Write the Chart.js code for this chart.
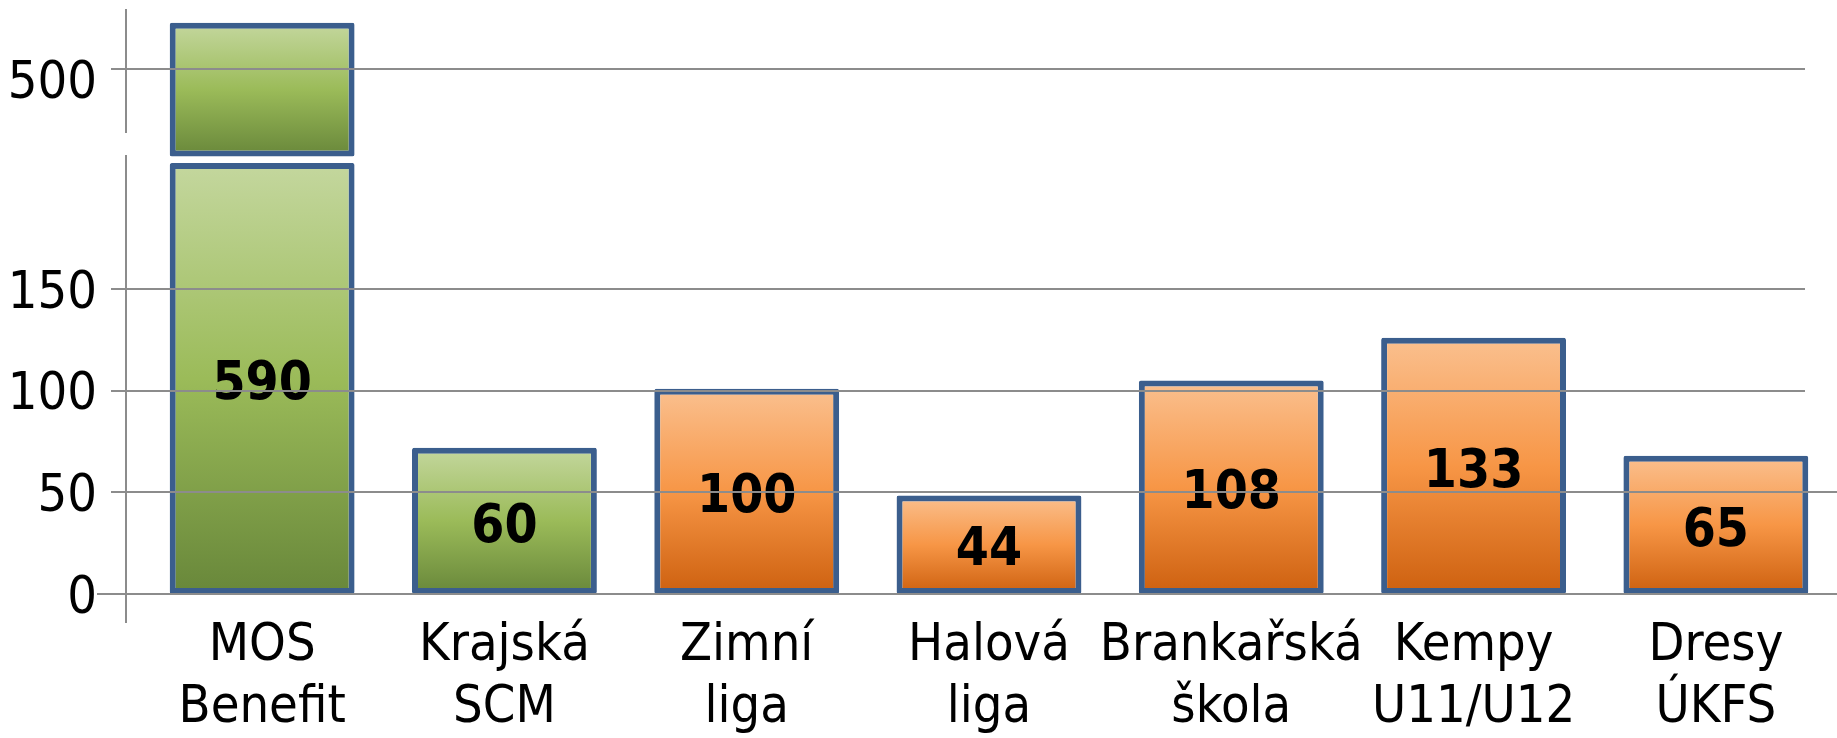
<!DOCTYPE html>
<html>
<head>
<meta charset="utf-8">
<script src="https://cdn.jsdelivr.net/npm/chart.js@4.4.0/dist/chart.umd.min.js"></script>
<style>
  html, body { margin: 0; padding: 0; background: #fff; }
  #wrap { width: 1837px; height: 738px; }
</style>
</head>
<body>
<div id="wrap"><canvas id="chart" width="1837" height="738"></canvas></div>
<script>
// kategorie na ose x (dva radky)
const categories = [
    ['MOS', 'Benefit'], ['Krajská', 'SCM'], ['Zimní', 'liga'], ['Halová', 'liga'],
    ['Brankařská', 'škola'], ['Kempy', 'U11/U12'], ['Dresy', 'ÚKFS']
];
// cisla napsana ve sloupcich
const valueLabels = [590, 60, 100, 44, 108, 133, 65];
// vysky sloupcu na dolni casti osy
const barHeights = [212, 72, 101, 48.5, 105, 126, 68];
// horni kus preruseneho sloupce MOS
const topPiece = [[328, 590], null, null, null, null, null, null];
// hodnoty popisku osy y
const lowerTicks = [0, 50, 100, 150];
const upperTicks = [500];
// skupina barev pro kazdy sloupec
const groups = ['green', 'green', 'orange', 'orange', 'orange', 'orange', 'orange'];

const palettes = {
    green: ['#c4d79e', '#9bbb59', '#68873a'],
    orange: ['#fac08f', '#f79646', '#cd600f']
};
const FONT = '"DejaVu Sans Condensed", "DejaVu Sans", sans-serif';

function barFill(ctx) {
    if (ctx.type !== 'data' || ctx.raw == null) return '#9bbb59';
    const c = palettes[groups[ctx.dataIndex]];
    const chart = ctx.chart;
    const scale = chart.scales[ctx.dataset.yAxisID];
    if (!scale) return c[1];
    const lo = Array.isArray(ctx.raw) ? ctx.raw[0] : 0;
    const hi = Array.isArray(ctx.raw) ? ctx.raw[1] : ctx.raw;
    const top = scale.getPixelForValue(hi);
    const bottom = scale.getPixelForValue(lo);
    if (!isFinite(top) || !isFinite(bottom) || top === bottom) return c[1];
    const g = chart.ctx.createLinearGradient(0, top, 0, bottom);
    g.addColorStop(0, c[0]);
    g.addColorStop(0.5, c[1]);
    g.addColorStop(1, c[2]);
    return g;
}

// popisky, mrizka pres sloupce a prerusena osa
const breakPlugin = {
    id: 'breakPlugin',
    afterDatasetsDraw(chart) {
        const { ctx, chartArea } = chart;
        const y = chart.scales.y;
        const yTop = chart.scales.yTop;

        ctx.save();
        ctx.font = 'bold 53px ' + FONT;
        ctx.fillStyle = '#000';
        ctx.textAlign = 'center';
        ctx.textBaseline = 'middle';
        chart.getDatasetMeta(0).data.forEach((bar, i) => {
            ctx.fillText(String(valueLabels[i]), bar.x, (bar.y + bar.base) / 2 + 7);
        });

        ctx.strokeStyle = '#8c8c8c';
        ctx.lineWidth = 2;
        const hline = (py, x0, x1) => {
            ctx.beginPath();
            ctx.moveTo(x0, py);
            ctx.lineTo(x1, py);
            ctx.stroke();
        };
        upperTicks.forEach(v => hline(Math.round(yTop.getPixelForValue(v)), chartArea.left - 30, chartArea.right - 32));
        lowerTicks.forEach(v => hline(
            Math.round(y.getPixelForValue(v)),
            v === 0 ? chartArea.left - 44 : chartArea.left - 30,
            v >= 100 ? chartArea.right - 32 : chartArea.right
        ));

        const axisX = chartArea.left - 15;
        ctx.beginPath();
        ctx.moveTo(axisX, yTop.top);
        ctx.lineTo(axisX, yTop.bottom - 27);
        ctx.moveTo(axisX, y.top - 5);
        ctx.lineTo(axisX, y.bottom + 29);
        ctx.stroke();
        ctx.restore();
    }
};

const yTicks = { font: { family: FONT, size: 52 }, color: '#000', padding: 44 };

const barStyle = {
    backgroundColor: barFill,
    borderColor: '#3b5e8d',
    borderWidth: 6,
    borderSkipped: false,
    borderRadius: 2,
    grouped: false,
    barPercentage: 0.763,
    categoryPercentage: 1
};

new Chart(document.getElementById('chart'), {
    type: 'bar',
    data: {
        labels: categories,
        datasets: [
            Object.assign({ data: barHeights, yAxisID: 'y' }, barStyle),
            Object.assign({ data: topPiece, yAxisID: 'yTop' }, barStyle)
        ]
    },
    options: {
        responsive: false,
        animation: false,
        layout: { padding: { top: 9, left: 0, right: 0, bottom: 0 } },
        plugins: { legend: { display: false }, tooltip: { enabled: false } },
        scales: {
            x: {
                grid: { display: false, drawTicks: false },
                border: { display: false },
                ticks: {
                    font: { family: FONT, size: 52, lineHeight: 1.19 },
                    color: '#000',
                    padding: 22,
                    maxRotation: 0,
                    minRotation: 0,
                    autoSkip: false
                },
                afterFit: s => { s.height = 144; s.paddingLeft = 0; s.paddingRight = 0; }
            },
            y: {
                type: 'linear',
                position: 'left',
                stack: 'left',
                stackWeight: 434,
                min: 0,
                max: 213.5,
                grid: { display: false, drawTicks: false },
                border: { display: false },
                ticks: Object.assign({ labelOffset: 5 }, yTicks),
                afterBuildTicks: s => { s.ticks = lowerTicks.map(v => ({ value: v })); },
                afterFit: s => { s.width = 141; s.paddingTop = 0; s.paddingBottom = 0; }
            },
            yTop: {
                type: 'linear',
                position: 'left',
                stack: 'left',
                stackWeight: 151,
                min: 321,
                max: 617,
                grid: { display: false, drawTicks: false },
                border: { display: false },
                ticks: Object.assign({ labelOffset: 16 }, yTicks),
                afterBuildTicks: s => { s.ticks = upperTicks.map(v => ({ value: v })); },
                afterFit: s => { s.width = 141; s.paddingTop = 0; s.paddingBottom = 0; }
            }
        }
    },
    plugins: [breakPlugin]
});
</script>
</body>
</html>
